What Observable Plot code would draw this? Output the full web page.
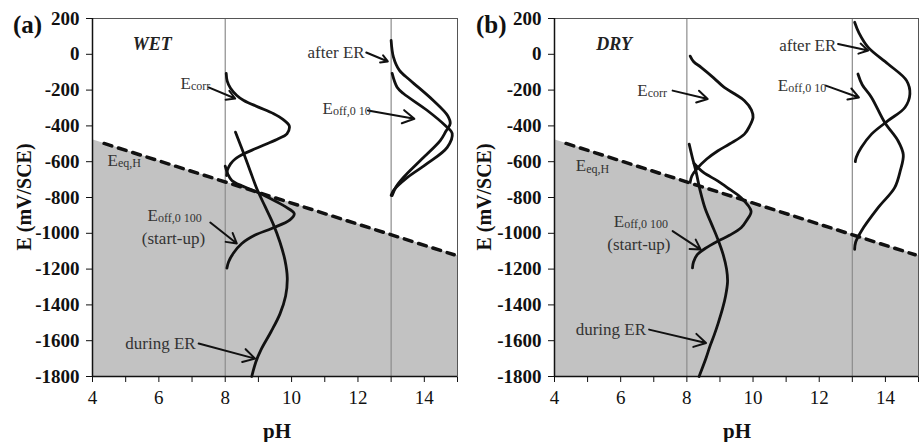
<!DOCTYPE html>
<html><head><meta charset="utf-8">
<script src="https://cdn.jsdelivr.net/npm/d3@7"></script>
<script src="https://cdn.jsdelivr.net/npm/@observablehq/plot@0.6"></script>
<style>
body{margin:0;background:#fff}
#wrap{display:flex;width:920px;height:442px;overflow:hidden}
#wrap svg{display:block}
</style>
</head><body><div id="wrap"></div>
<script>
// ---------- axes ----------
const xTickValues = [4,5,6,7,8,9,10,11,12,13,14,15];
const xTickLabels = [4,6,8,10,12,14];
const yTicks = [-1800,-1600,-1400,-1200,-1000,-800,-600,-400,-200,0,200];
const refPH = [8, 13];

// hydrogen equilibrium (grey region boundary and dashed line)
const eqPH = [4, 15];
const eqE = [-477, -1126];
const dashPH = [4.35, 14.9];
const dashE = [-498, -1120];

// ---------- (a) WET ----------
const wetEcorrPH = [8.03,8.06,8.16,8.35,8.56,9.0,9.46,9.75,9.93,9.86,9.6,9.26,8.9,8.56,8.3,8.16,8.06,8.04];
const wetEcorrE  = [-107,-150,-190,-230,-258,-295,-332,-365,-400,-444,-472,-500,-528,-556,-585,-612,-650,-677];
const wetOff100PH = [8.0,8.08,8.2,8.5,8.85,9.36,9.8,10.08,9.95,9.4,8.9,8.5,8.25,8.1,8.05];
const wetOff100E  = [-625,-670,-705,-735,-761,-806,-850,-890,-925,-973,-1010,-1057,-1110,-1160,-1195];
const wetDuringPH = [8.31,8.55,8.75,8.95,9.2,9.45,9.65,9.8,9.87,9.82,9.65,9.38,9.08,8.92,8.8];
const wetDuringE  = [-435,-550,-650,-750,-850,-950,-1050,-1150,-1250,-1350,-1450,-1550,-1650,-1720,-1800];
const wetAfterPH = [13.0,13.07,13.25,13.58,14.27,14.7,14.78,14.65,14.48,13.88,13.37,13.15,13.03];
const wetAfterE  = [77,-16,-90,-146,-258,-342,-387,-430,-482,-593,-688,-740,-789];
const wetOff10PH = [13.03,13.18,13.37,14.09,14.63,14.84,14.69,14.09,13.49,13.07,13.0];
const wetOff10E  = [-107,-184,-219,-314,-398,-443,-520,-610,-688,-761,-789];

// ---------- (b) DRY ----------
const dryEcorrPH = [8.1,8.2,8.43,8.8,9.13,9.45,9.74,9.95,10.0,9.9,9.74,9.3,8.93,8.6,8.3,8.15,8.1];
const dryEcorrE  = [-10,-40,-73,-130,-185,-222,-259,-310,-353,-400,-446,-500,-540,-585,-640,-680,-715];
const dryOff100PH = [8.22,8.5,8.93,9.3,9.64,9.94,9.8,9.64,9.3,8.93,8.55,8.32,8.2,8.17];
const dryOff100E  = [-610,-660,-707,-755,-801,-876,-930,-969,-1010,-1044,-1085,-1118,-1160,-1193];
const dryDuringPH = [8.07,8.17,8.27,8.4,8.55,8.75,8.93,9.1,9.2,9.23,9.17,9.08,8.95,8.83,8.7,8.58,8.37];
const dryDuringE  = [-502,-580,-650,-760,-860,-950,-1030,-1120,-1200,-1270,-1350,-1420,-1500,-1566,-1630,-1697,-1800];
const dryAfterPH = [13.07,13.2,13.48,14.08,14.64,14.74,14.59,14.08,13.58,13.27,13.12,13.09];
const dryAfterE  = [179,120,39,-54,-147,-222,-297,-371,-446,-521,-575,-600];
const dryOff10PH = [13.17,13.3,13.58,13.98,14.38,14.54,14.45,14.28,13.78,13.27,13.1,13.07];
const dryOff10E  = [-110,-170,-241,-381,-483,-560,-650,-745,-857,-988,-1050,-1090];

// ---------- annotations ----------
const wetLabelText = ["E","after ER","E","E","E","(start-up)","during ER"];
const wetLabelSub  = ["corr","","off,0 10","eq,H","off,0 100","",""];
const wetLabelPH   = [6.65,10.48,10.93,4.45,5.66,6.44,4.99];
const wetLabelE    = [-163,10,-303,-593,-900,-1029,-1616];
const wetArrowFrom = [[7.5,-185],[12.25,10],[12.3,-314],[7.55,-940],[7.2,-1616]];
const wetArrowTo   = [[8.3,-247],[12.9,-40],[13.7,-360],[8.35,-1057],[8.9,-1700]];

const dryLabelText = ["E","after ER","E","E","E","(start-up)","during ER"];
const dryLabelSub  = ["corr","","off,0 10","eq,H","off,0 100","",""];
const dryLabelPH   = [6.5,10.79,10.75,4.64,5.79,6.55,4.64];
const dryLabelE    = [-203,49,-175,-623,-932,-1062,-1537];
const dryArrowFrom = [[7.57,-203],[12.57,58],[12.2,-175],[7.57,-988],[6.86,-1538]];
const dryArrowTo   = [[8.63,-250],[13.48,21],[13.2,-241],[8.42,-1091],[8.58,-1613]];

const FONT = "'Liberation Serif','Times New Roman',Times,serif";

function rows(xs, ys) { return xs.map((x, i) => ({x, y: ys[i]})); }

function panel(p) {
  const yMin = -1800;
  const area = eqPH.map((x, i) => ({x, lo: yMin, y: eqE[i]}));
  const labels = p.lt.map((t, i) => ({t, s: p.ls[i], x: p.lx[i], y: p.ly[i]}));
  const arrows = p.af.map((f, i) => ({x1: f[0], y1: f[1], x2: p.at[i][0], y2: p.at[i][1]}));
  const plainLabels = labels.filter(d => d.s === "" && d.t !== "(start-up)");
  const centerLabels = labels.filter(d => d.t === "(start-up)");
  const subLabels = labels.filter(d => d.s !== "");
  const curveMarks = p.curves.map(c => Plot.line(rows(c[0], c[1]), {
    x: "x", y: "y", stroke: "#111", strokeWidth: 2.8, curve: "catmull-rom"
  }));
  const svg = Plot.plot({
    width: 460, height: 442,
    marginLeft: p.ml, marginRight: p.mr, marginTop: 18, marginBottom: 66,
    style: {fontFamily: FONT, fontSize: "19px", color: "#111", background: "white"},
    x: {domain: [4, 15], ticks: xTickValues, tickFormat: d => xTickLabels.includes(d) ? String(d) : "",
        tickSize: 6, tickPadding: 8, label: null},
    y: {domain: [-1800, 200], ticks: yTicks, tickFormat: d => String(d), tickSize: 6, tickPadding: 7, label: null},
    marks: [
      Plot.areaY(area, {x: "x", y1: "lo", y2: "y", fill: "#c2c2c2"}),
      Plot.ruleX(refPH, {stroke: "#8c8c8c", strokeWidth: 1.2}),
      Plot.line(rows(dashPH, dashE), {x: "x", y: "y", stroke: "#111", strokeWidth: 3.5, strokeDasharray: "8,7"}),
      Plot.frame({stroke: "#555"}),
      Plot.ruleY([-1800], {stroke: "#111", strokeWidth: 1.5}),
      Plot.ruleX([4], {stroke: "#111", strokeWidth: 1.5}),
      ...curveMarks,
      Plot.arrow(arrows, {x1: "x1", y1: "y1", x2: "x2", y2: "y2", stroke: "#111", strokeWidth: 2, headLength: 10}),
      Plot.text(plainLabels, {x: "x", y: "y", text: "t", textAnchor: "start", fontSize: 17, fill: "#333"}),
      Plot.text(centerLabels, {x: "x", y: "y", text: "t", textAnchor: "middle", fontSize: 17, fill: "#333"}),
      Plot.text(subLabels, {x: "x", y: "y", text: "t", textAnchor: "start", fontSize: 17, fill: "#333"}),
      Plot.text(subLabels, {x: "x", y: "y", text: "s", textAnchor: "start", dx: 10.5, dy: 3, fontSize: 12, fill: "#333"}),
      Plot.text([p.title], {x: 5.8, y: 55, text: d => d, textAnchor: "middle", fontSize: 18,
        fontWeight: "bold", fontStyle: "italic", fill: "#222"})
    ]
  });
  svg.querySelectorAll('g[aria-label^="y-axis"] text').forEach(t => t.setAttribute("font-weight", "bold"));
  const s = d3.select(svg);
  s.append("text").attr("x", p.lab).attr("y", 33).attr("text-anchor", "start").attr("font-family", FONT)
    .attr("font-size", 25).attr("font-weight", "bold").attr("fill", "#111").text(p.tag);
  s.append("text").attr("transform", "translate(31,197) rotate(-90)").attr("text-anchor", "middle")
    .attr("font-family", FONT).attr("font-size", 20).attr("font-weight", "bold").attr("fill", "#111")
    .text("E (mV/SCE)");
  s.append("text").attr("x", 277).attr("y", 438).attr("text-anchor", "middle")
    .attr("font-family", FONT).attr("font-size", 21).attr("font-weight", "bold").attr("fill", "#111")
    .text("pH");
  return svg;
}

const wrap = document.getElementById("wrap");
wrap.appendChild(panel({
  ml: 92, mr: 3, tag: "(a)", lab: 13, title: "WET",
  curves: [[wetEcorrPH, wetEcorrE], [wetOff100PH, wetOff100E], [wetDuringPH, wetDuringE],
           [wetAfterPH, wetAfterE], [wetOff10PH, wetOff10E]],
  lt: wetLabelText, ls: wetLabelSub, lx: wetLabelPH, ly: wetLabelE, af: wetArrowFrom, at: wetArrowTo
}));
wrap.appendChild(panel({
  ml: 94, mr: 2, tag: "(b)", lab: 16, title: "DRY",
  curves: [[dryEcorrPH, dryEcorrE], [dryOff100PH, dryOff100E], [dryDuringPH, dryDuringE],
           [dryAfterPH, dryAfterE], [dryOff10PH, dryOff10E]],
  lt: dryLabelText, ls: dryLabelSub, lx: dryLabelPH, ly: dryLabelE, af: dryArrowFrom, at: dryArrowTo
}));
</script>
</body></html>
